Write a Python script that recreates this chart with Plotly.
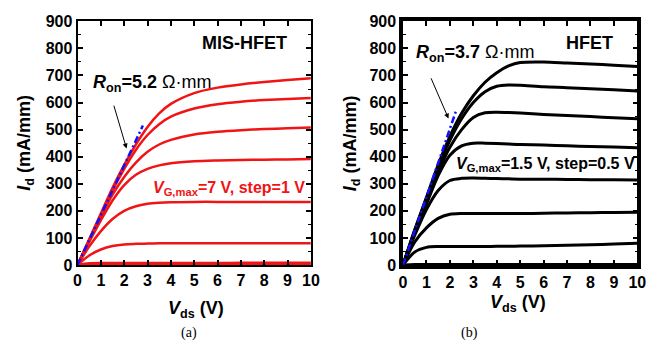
import plotly.graph_objects as go

W, H = 664, 352

# ---------------- data: MIS-HFET (a) ----------------
vds_a = [0, 0.5, 1, 1.5, 2, 2.5, 3, 3.5, 4, 5, 6, 7, 8, 9, 10]
id_a_vg7 = [0, 95, 190, 285, 370, 445, 510, 560, 595, 635, 655, 667, 676, 683, 690]
id_a_vg6 = [0, 93, 185, 275, 355, 425, 480, 520, 548, 578, 594, 603, 609, 613, 617]
id_a_vg5 = [0, 90, 178, 260, 325, 378, 418, 445, 462, 482, 492, 498, 502, 505, 508]
id_a_vg4 = [0, 85, 165, 238, 295, 333, 355, 368, 376, 383, 386, 388, 389, 390, 391]
id_a_vg3 = [0, 68, 125, 170, 200, 217, 226, 230, 232, 233, 233, 233, 233, 233, 233]
id_a_vg2 = [0, 35, 57, 70, 76, 78, 79, 80, 80, 80, 80, 80, 80, 80, 80]
id_a_vg1 = [0, 6, 7, 7, 7, 7, 7, 7, 7, 7, 7, 8, 8, 8, 8]
id_a_vg0 = [0, 1, 1, 1, 1, 1, 1, 1, 1, 1, 1, 1, 1, 1, 1]
curves_a = [id_a_vg7, id_a_vg6, id_a_vg5, id_a_vg4, id_a_vg3, id_a_vg2, id_a_vg1, id_a_vg0]
ron_a_x = [0, 2.8]
ron_a_y = [0, 515]

# ---------------- data: HFET (b) ----------------
vds_b = [0, 0.5, 1, 1.5, 2, 2.5, 3, 3.5, 4, 4.5, 5, 6, 7, 8, 9, 10]
id_b_1 = [0, 130, 250, 370, 475, 560, 625, 675, 710, 735, 748, 750, 746, 742, 738, 733]
id_b_2 = [0, 128, 245, 360, 460, 540, 600, 640, 660, 665, 664, 658, 655, 651, 647, 643]
id_b_3 = [0, 125, 240, 345, 435, 500, 545, 562, 564, 563, 561, 556, 552, 548, 544, 540]
id_b_4 = [0, 120, 225, 330, 405, 440, 450, 450, 449, 447, 445, 443, 440, 438, 436, 433]
id_b_5 = [0, 110, 205, 275, 312, 320, 321, 320, 319, 318, 317, 317, 316, 315, 315, 314]
id_b_6 = [0, 85, 137, 172, 187, 190, 190, 190, 190, 190, 190, 191, 192, 193, 194, 195]
id_b_7 = [0, 48, 65, 68, 68, 68, 68, 68, 69, 69, 70, 71, 73, 75, 77, 80]
id_b_8 = [0, 2, 2, 2, 2, 2, 2, 2, 2, 2, 2, 2, 2, 2, 2, 2]
curves_b = [id_b_1, id_b_2, id_b_3, id_b_4, id_b_5, id_b_6, id_b_7, id_b_8]
ron_b_x = [0, 2.29]
ron_b_y = [0, 576]

x_ticks = list(range(0, 11))
y_ticks = list(range(0, 1000, 100))

FONT = "Liberation Sans, Arial, sans-serif"
RED = "#f01414"

fig = go.Figure()

for c in curves_a:
    fig.add_trace(go.Scatter(x=vds_a, y=c, mode="lines", xaxis="x", yaxis="y",
                             line=dict(color=RED, width=2.5, shape="spline", smoothing=0.8),
                             showlegend=False, hoverinfo="skip"))
fig.add_trace(go.Scatter(x=ron_a_x, y=ron_a_y, mode="lines", xaxis="x", yaxis="y",
                         line=dict(color="#1010ff", width=2.5, dash="7px,3px,2px,3px"),
                         showlegend=False, hoverinfo="skip"))

for c in curves_b:
    fig.add_trace(go.Scatter(x=vds_b, y=c, mode="lines", xaxis="x2", yaxis="y2",
                             line=dict(color="black", width=3, shape="spline", smoothing=0.8),
                             showlegend=False, hoverinfo="skip"))
fig.add_trace(go.Scatter(x=ron_b_x, y=ron_b_y, mode="lines", xaxis="x2", yaxis="y2",
                         line=dict(color="#1010ff", width=2.5, dash="7px,3px,2px,3px"),
                         showlegend=False, hoverinfo="skip"))


def px(x):
    return x / W


def py(y):
    return 1 - y / H


ydom = [py(270), py(14)]
tickfont = dict(family=FONT, size=16, color="black", weight="bold")


def xaxis(dom, lw, anchor):
    return dict(domain=dom, range=[0, 10], tickvals=x_ticks, ticks="inside", ticklen=5,
                tickwidth=1.5, tickcolor="black", showline=True, linecolor="black",
                linewidth=lw, mirror="ticks", showgrid=False, zeroline=False,
                tickfont=tickfont, anchor=anchor)


def yaxis(lw, anchor):
    return dict(domain=ydom, range=[0, 900], tickvals=y_ticks, ticks="inside", ticklen=5,
                tickwidth=1.5, tickcolor="black", showline=True, linecolor="black",
                linewidth=lw, mirror="ticks", showgrid=False, zeroline=False,
                tickfont=tickfont, anchor=anchor,
                minor=dict(dtick=50, ticks="inside", ticklen=3, tickwidth=1.2, tickcolor="black"))


fig.update_layout(
    width=W, height=H, margin=dict(l=0, r=0, t=0, b=0),
    paper_bgcolor="white", plot_bgcolor="white",
    xaxis=xaxis([px(75), px(313)], 2, "y"),
    yaxis=yaxis(2, "x"),
    xaxis2=xaxis([px(407), px(646)], 3.5, "y2"),
    yaxis2=yaxis(3.5, "x2"),
)

anns = []


def txt(text, x, y, size, color="black", angle=0, family=FONT):
    anns.append(dict(text=text, x=px(x), y=py(y), xref="paper", yref="paper",
                     showarrow=False, textangle=angle,
                     font=dict(family=family, size=size, color=color),
                     xanchor="center", yanchor="middle"))


# axis titles
txt("<b><i>I</i><sub>d</sub> (mA/mm)</b>", 22, 142, 18, angle=-90)
txt("<b><i>I</i><sub>d</sub> (mA/mm)</b>", 354, 142, 18, angle=-90)
txt("<b><i>V</i><sub>ds</sub> (V)</b>", 196, 317, 18)
txt("<b><i>V</i><sub>ds</sub> (V)</b>", 524, 310, 18)

# panel labels
txt("<b>MIS-HFET</b>", 245, 37, 18)
txt("<b>HFET</b>", 597, 37, 18)
txt("<b><i>R</i><sub>on</sub>=5.2</b> Ω·mm", 151, 79, 18)
txt("<b><i>R</i><sub>on</sub>=3.7</b> Ω·mm", 480, 48, 18)
txt("<b><i>V</i><sub>G,max</sub>=7 V, step=1 V</b>", 230, 190, 16, color=RED)
txt("<b><i>V</i><sub>G,max</sub>=1.5 V, step=0.5 V</b>", 552, 164, 16)

txt("(a)", 189, 341, 14, family="Liberation Serif, Times New Roman, serif")
txt("(b)", 475, 341, 14, family="Liberation Serif, Times New Roman, serif")

# arrows
anns.append(dict(x=2.1, y=430, ax=1.54, ay=594, xref="x", yref="y", axref="x", ayref="y",
                 text="", showarrow=True, arrowhead=2, arrowsize=1, arrowwidth=1,
                 arrowcolor="black"))
anns.append(dict(x=1.94, y=541, ax=1.17, ay=695, xref="x2", yref="y2", axref="x2", ayref="y2",
                 text="", showarrow=True, arrowhead=2, arrowsize=1, arrowwidth=1,
                 arrowcolor="black"))

fig.update_layout(annotations=anns)

fig.write_html("out.html")
